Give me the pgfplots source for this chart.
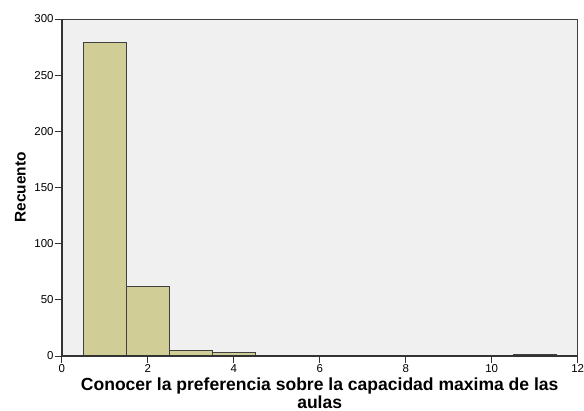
\documentclass[border=0pt]{standalone}
\usepackage{pgfplots}
\pgfplotsset{compat=1.18}
\usepackage{fontspec}
\setmainfont{Liberation Sans}
\definecolor{barfill}{HTML}{D0CD96}
\definecolor{plotbg}{HTML}{EFF0EF}
\begin{document}
\begin{tikzpicture}[x=1bp,y=1bp]
\useasboundingbox (0,0) rectangle (584,410);
\fill[white] (0,0) rectangle (584,410);
\begin{axis}[
    at={(61.7bp,54bp)}, anchor=south west,
    scale only axis,
    width=516bp, height=337bp,
    xmin=0, xmax=12, ymin=0, ymax=300,
    xtick={0,2,...,12}, ytick={0,50,...,300},
    xtick pos=bottom, ytick pos=left,
    tick align=outside,
    major tick length=7bp,
    tick style={black!80, line width=0.8pt},
    axis line style={black!75, line width=0.7pt},
    axis background/.style={fill=plotbg},
    ticklabel style={font=\fontsize{11.5}{12}\selectfont},
    yticklabel style={inner sep=1bp},
    xticklabel style={inner sep=1.5bp},
    /pgf/number format/assume math mode=true,
    xlabel={\textbf{Conocer la preferencia sobre la capacidad maxima de las}\\\textbf{aulas}},
    xlabel style={font=\fontsize{17.6}{11}\selectfont, align=center, inner sep=0pt,
        at={(axis description cs:0.5,0)}, anchor=north, yshift=-21.8bp},
    ylabel={\textbf{Recuento}},
    ylabel style={font=\fontsize{15.5}{16}\selectfont,
        at={(axis description cs:-0.0628,0.5)}, anchor=south, rotate=0},
    ybar, bar width=1, bar shift=0,
    clip=false,
]
\addplot[fill=barfill, draw=black!75, line width=1pt] coordinates {
    (1,279) (2,62) (3,5) (4,3) (11,1)
};
\draw[black!80, line width=2pt] (rel axis cs:0,1) -- (rel axis cs:0,0) -- (rel axis cs:1,0);
\end{axis}
\end{tikzpicture}
\end{document}
